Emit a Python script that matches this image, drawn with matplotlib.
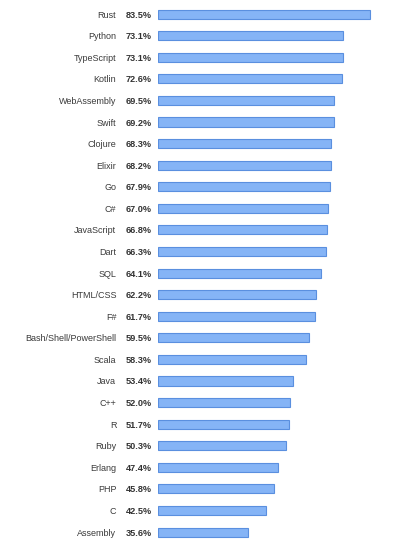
import matplotlib
matplotlib.use('Agg')
import matplotlib.pyplot as plt

languages = ['Rust', 'Python', 'TypeScript', 'Kotlin', 'WebAssembly', 'Swift',
             'Clojure', 'Elixir', 'Go', 'C#', 'JavaScript', 'Dart', 'SQL',
             'HTML/CSS', 'F#', 'Bash/Shell/PowerShell', 'Scala', 'Java', 'C++',
             'R', 'Ruby', 'Erlang', 'PHP', 'C', 'Assembly']
loved = [83.5, 73.1, 73.1, 72.6, 69.5, 69.2, 68.3, 68.2, 67.9, 67.0, 66.8,
         66.3, 64.1, 62.2, 61.7, 59.5, 58.3, 53.4, 52.0, 51.7, 50.3, 47.4,
         45.8, 42.5, 35.6]

plt.rcParams['font.family'] = ['Liberation Sans', 'DejaVu Sans']

fig = plt.figure(figsize=(4, 5.5), dpi=100)
ax = fig.add_axes([0.395, 0.013, 0.6025, 0.981])

ypos = list(range(len(languages)))
ax.barh(ypos, loved, height=0.42, color='#85b4f6', edgecolor='#5a8fdf',
        linewidth=0.8)

# Percentages sit just left of the bars.
for y, v in zip(ypos, loved):
    ax.annotate(f'{v:.1f}%', xy=(0, y), xytext=(-4.5, 0),
                textcoords='offset points', ha='right', va='center_baseline',
                fontsize=6.6, fontweight='bold', color='#333333')

ax.set_yticks(ypos)
ax.set_yticklabels(languages, fontsize=6.5, color='#3a3a3a')
for lab in ax.get_yticklabels():
    lab.set_verticalalignment('center_baseline')
ax.tick_params(axis='y', length=0, pad=30)
ax.set_xticks([])
ax.set_xlim(0, 95)
ax.set_ylim(len(languages) - 0.5, -0.5)
for side in ax.spines.values():
    side.set_visible(False)

fig.savefig('out.png', dpi=100)
